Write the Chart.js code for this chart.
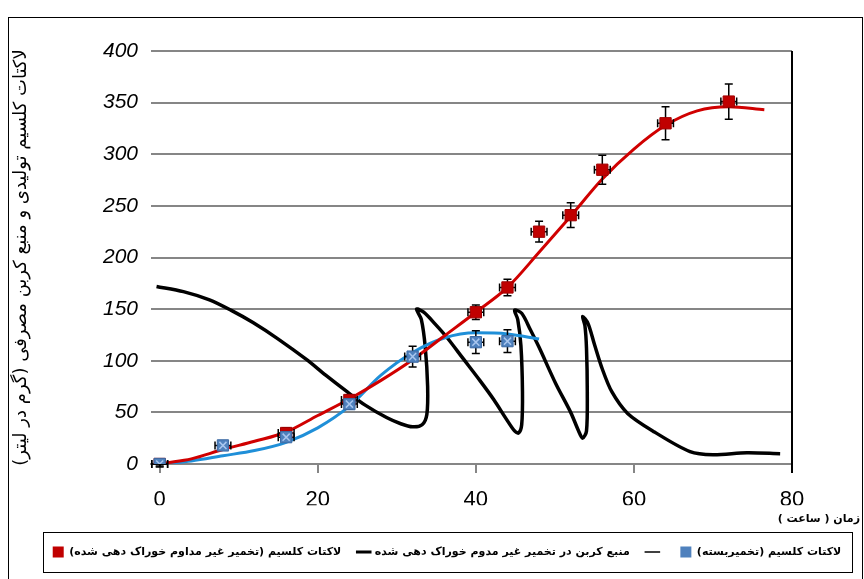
<!DOCTYPE html>
<html lang="fa">
<head>
<meta charset="utf-8">
<title>لاکتات کلسیم و منبع کربن</title>
<script src="https://cdn.jsdelivr.net/npm/chart.js@4.4.1/dist/chart.umd.min.js"></script>
<style>
    html, body { margin: 0; padding: 0; background: #fff; }
    #wrap { width: 864px; height: 579px; position: relative; }
</style>
</head>
<body>
<div id="wrap"><canvas id="chart"></canvas></div>
<script>
// text
const yTitle = "لاکتات کلسیم تولیدی و منبع کربن مصرفی (گرم در لیتر)";
const xTitle = "زمان ( ساعت )";
const fedBatchLabel = "لاکتات کلسیم (تخمیر غیر مداوم خوراک دهی شده)";
const carbonLabel = "منبع کربن در تخمیر غیر مدوم خوراک دهی شده";
const batchLabel = "لاکتات کلسیم (تخمیربسته)";

// axes
const xTicks = [0, 20, 40, 60, 80];
const yTicks = [0, 50, 100, 150, 200, 250, 300, 350, 400];

// measured points (hours, g/L) with error bars
const redTimes = [0, 16, 24, 40, 44, 48, 52, 56, 64, 72];
const redValues = [0, 30, 62, 147, 171, 225, 241, 285, 330, 351];
const redErrors = [3, 5, 5, 7, 8, 10, 12, 14, 16, 17];

const blueTimes = [0, 8, 16, 24, 32, 40, 44];
const blueValues = [0, 18, 26, 58, 104, 118, 119];
const blueErrors = [2, 3, 4, 5, 10, 11, 11];

const timeError = 1;

// fitted curves
const redCurveX = [-1.1, 0, 4, 8, 12, 16, 20, 24, 28, 32, 36, 40, 44, 48, 52, 56, 60, 64, 68, 72, 76.5];
const redCurveY = [-2, 0, 5, 14, 22, 31, 47, 63, 81, 101, 124, 147, 171, 205, 240, 276, 305, 328, 342, 346, 343];

const blueCurveX = [0, 4, 8, 12, 16, 20, 24, 28, 32, 36, 40, 44, 48];
const blueCurveY = [0, 3, 8, 13, 21, 35, 56, 86, 108, 122, 127, 126, 121];

const carbonX = [-0.4, 3, 6.3, 9, 11.8, 15, 18.6, 21, 23.7, 26, 28.7, 30.5, 32, 33.2, 33.8, 33.9, 33.6, 33.1, 32.5,
    33.4, 34.8, 36.3, 38.4, 40.5, 42.3, 43.9, 44.9, 45.4, 45.8, 45.9, 45.7, 45.3, 44.9,
    45.8, 46.9, 48, 50.1, 52, 53, 53.5, 54, 54.1, 54, 53.8, 53.5,
    54.2, 55, 56, 57.2, 59.2, 62.6, 67.1, 70, 74.3, 78.5];
const carbonY = [172, 167, 159, 149, 137, 121, 101, 86, 70, 57, 45, 39, 36, 38, 48, 75, 113, 140, 150,
    147, 136, 123, 102, 81, 62, 43, 32, 30, 38, 70, 115, 140, 149,
    146, 130, 113, 78, 50, 32, 25, 32, 70, 112, 134, 143,
    136, 116, 92, 70, 49, 31, 12, 9, 11, 10];

const gridColor = "#868686";
const persianFont = "\"DejaVu Sans\", sans-serif";
const numberFont = "\"Liberation Sans\", Arial, sans-serif";

function rtl(s) {
    return "\u200F" + s + "\u200F";
}

function toPoints(xs, ys) {
    return xs.map((x, i) => ({ x: x, y: ys[i] }));
}

function drawErrors(ctx, sx, sy, times, values, errors) {
    times.forEach((t, i) => {
        const px = sx.getPixelForValue(t);
        const py = sy.getPixelForValue(values[i]);
        const top = sy.getPixelForValue(values[i] + errors[i]);
        const bottom = sy.getPixelForValue(values[i] - errors[i]);
        const left = sx.getPixelForValue(t - timeError);
        const right = sx.getPixelForValue(t + timeError);

        ctx.beginPath();
        ctx.moveTo(px, top); ctx.lineTo(px, bottom);
        ctx.moveTo(px - 4, top); ctx.lineTo(px + 4, top);
        ctx.moveTo(px - 4, bottom); ctx.lineTo(px + 4, bottom);
        ctx.moveTo(left, py); ctx.lineTo(right, py);
        ctx.moveTo(left, py - 4); ctx.lineTo(left, py + 4);
        ctx.moveTo(right, py - 4); ctx.lineTo(right, py + 4);
        ctx.stroke();
    });
}

const decor = {
    id: "decor",
    afterLayout(chart) {
        // the original legend sits a little right of centre
        const lg = chart.legend;
        const dx = 447 - (lg.left + lg.right) / 2;
        lg.left += dx;
        lg.right += dx;
    },
    beforeDatasetDraw(chart, args) {
        if (args.index !== 2) {
            return;
        }
        const ctx = chart.ctx;
        ctx.save();
        ctx.strokeStyle = "#000";
        ctx.lineWidth = 1.5;
        drawErrors(ctx, chart.scales.x, chart.scales.y, redTimes, redValues, redErrors);
        drawErrors(ctx, chart.scales.x, chart.scales.y, blueTimes, blueValues, blueErrors);
        ctx.restore();
    },
    afterDraw(chart) {
        const ctx = chart.ctx;
        const area = chart.chartArea;
        ctx.save();

        // right edge of the plot
        ctx.strokeStyle = "#000";
        ctx.lineWidth = 2;
        ctx.beginPath();
        ctx.moveTo(area.right, area.top);
        ctx.lineTo(area.right, area.bottom + 9);
        ctx.stroke();

        // legend frame
        const boxes = chart.legend.legendHitBoxes;
        if (boxes && boxes.length) {
            const l = Math.min(...boxes.map(b => b.left)) - 10;
            const r = Math.max(...boxes.map(b => b.left + b.width)) + 10;
            const cy = boxes[0].top + boxes[0].height / 2;
            ctx.lineWidth = 1;
            ctx.strokeRect(Math.round(l) + 0.5, Math.round(cy - 20) + 0.5, Math.round(r - l), 40);
        }

        // outer frame
        ctx.lineWidth = 1;
        ctx.strokeRect(8.5, 17.5, 854, 570);
        ctx.restore();
    }
};

Chart.defaults.font.family = persianFont;
Chart.defaults.color = "#000";

const chart = new Chart(document.getElementById("chart"), {
    type: "scatter",
    data: {
        datasets: [
            {
                data: toPoints(blueTimes, blueValues),
                pointStyle: "crossRot",
                pointRadius: 5,
                borderColor: "#a9c6ee",
                backgroundColor: "transparent",
                borderWidth: 1.5
            },
            {
                data: toPoints(blueTimes, blueValues),
                pointStyle: "rect",
                pointRadius: 8,
                backgroundColor: "#4f81bd",
                borderColor: "#3c6aa3",
                borderWidth: 1
            },
            {
                data: toPoints(redTimes, redValues),
                pointStyle: "rect",
                pointRadius: 8,
                backgroundColor: "#c00000",
                borderColor: "#a00000",
                borderWidth: 1
            },
            {
                data: toPoints(redCurveX, redCurveY),
                showLine: true,
                pointRadius: 0,
                borderColor: "#d00000",
                borderWidth: 3,
                cubicInterpolationMode: "monotone"
            },
            {
                data: toPoints(blueCurveX, blueCurveY),
                showLine: true,
                pointRadius: 0,
                borderColor: "#1f8fd8",
                borderWidth: 3,
                cubicInterpolationMode: "monotone"
            },
            {
                data: toPoints(carbonX, carbonY),
                showLine: true,
                pointRadius: 0,
                borderColor: "#000",
                borderWidth: 3.5,
                tension: 0.3
            }
        ]
    },
    options: {
        responsive: true,
        maintainAspectRatio: false,
        animation: false,
        events: [],
        layout: {
            padding: { left: 6, right: 4, top: 51, bottom: 11.5 }
        },
        plugins: {
            tooltip: { enabled: false },
            legend: {
                position: "bottom",
                labels: {
                    usePointStyle: true,
                    boxHeight: 11,
                    padding: 17,
                    font: { family: persianFont, size: 11, weight: "bold" },
                    generateLabels: () => [
                        { text: rtl(fedBatchLabel), fillStyle: "#c00000", strokeStyle: "#c00000", pointStyle: "rect", lineWidth: 0 },
                        { text: rtl(carbonLabel), fillStyle: "#000", strokeStyle: "#000", pointStyle: "line", lineWidth: 3 },
                        { text: "", fillStyle: "#000", strokeStyle: "#000", pointStyle: "line", lineWidth: 1.5 },
                        { text: rtl(batchLabel), fillStyle: "#4f81bd", strokeStyle: "#4f81bd", pointStyle: "rect", lineWidth: 0 }
                    ]
                }
            },
            title: {
                display: true,
                text: rtl(xTitle),
                position: "bottom",
                align: "end",
                weight: 500,
                padding: { top: 7, bottom: 4 },
                font: { family: persianFont, size: 11, weight: "bold" },
                color: "#000"
            }
        },
        scales: {
            x: {
                type: "linear",
                min: -1.1,
                max: 80,
                afterBuildTicks: s => { s.ticks = xTicks.map(v => ({ value: v })); },
                afterFit: s => { s.height = 41.3; },
                grid: {
                    drawOnChartArea: false,
                    drawTicks: true,
                    tickLength: 9,
                    color: gridColor,
                    lineWidth: 2
                },
                border: { display: true, color: gridColor, width: 2 },
                ticks: {
                    padding: 14,
                    maxRotation: 0,
                    font: { family: numberFont, size: 22 },
                    color: "#000"
                }
            },
            y: {
                min: 0,
                max: 400,
                afterBuildTicks: s => { s.ticks = yTicks.map(v => ({ value: v })); },
                afterFit: s => { s.width = 145; },
                grid: { color: gridColor, lineWidth: 2, drawTicks: false },
                border: { display: false },
                ticks: {
                    padding: 13,
                    font: { family: numberFont, size: 21, style: "italic" },
                    color: "#000"
                },
                title: {
                    display: true,
                    text: rtl(yTitle),
                    padding: { top: 5, bottom: 0 },
                    font: { family: persianFont, size: 18 },
                    color: "#000"
                }
            },
            y2: {
                position: "right",
                grid: { display: false },
                border: { display: false },
                ticks: { display: false },
                afterFit: s => { s.width = 68; }
            }
        }
    },
    plugins: [decor]
});
</script>
</body>
</html>
